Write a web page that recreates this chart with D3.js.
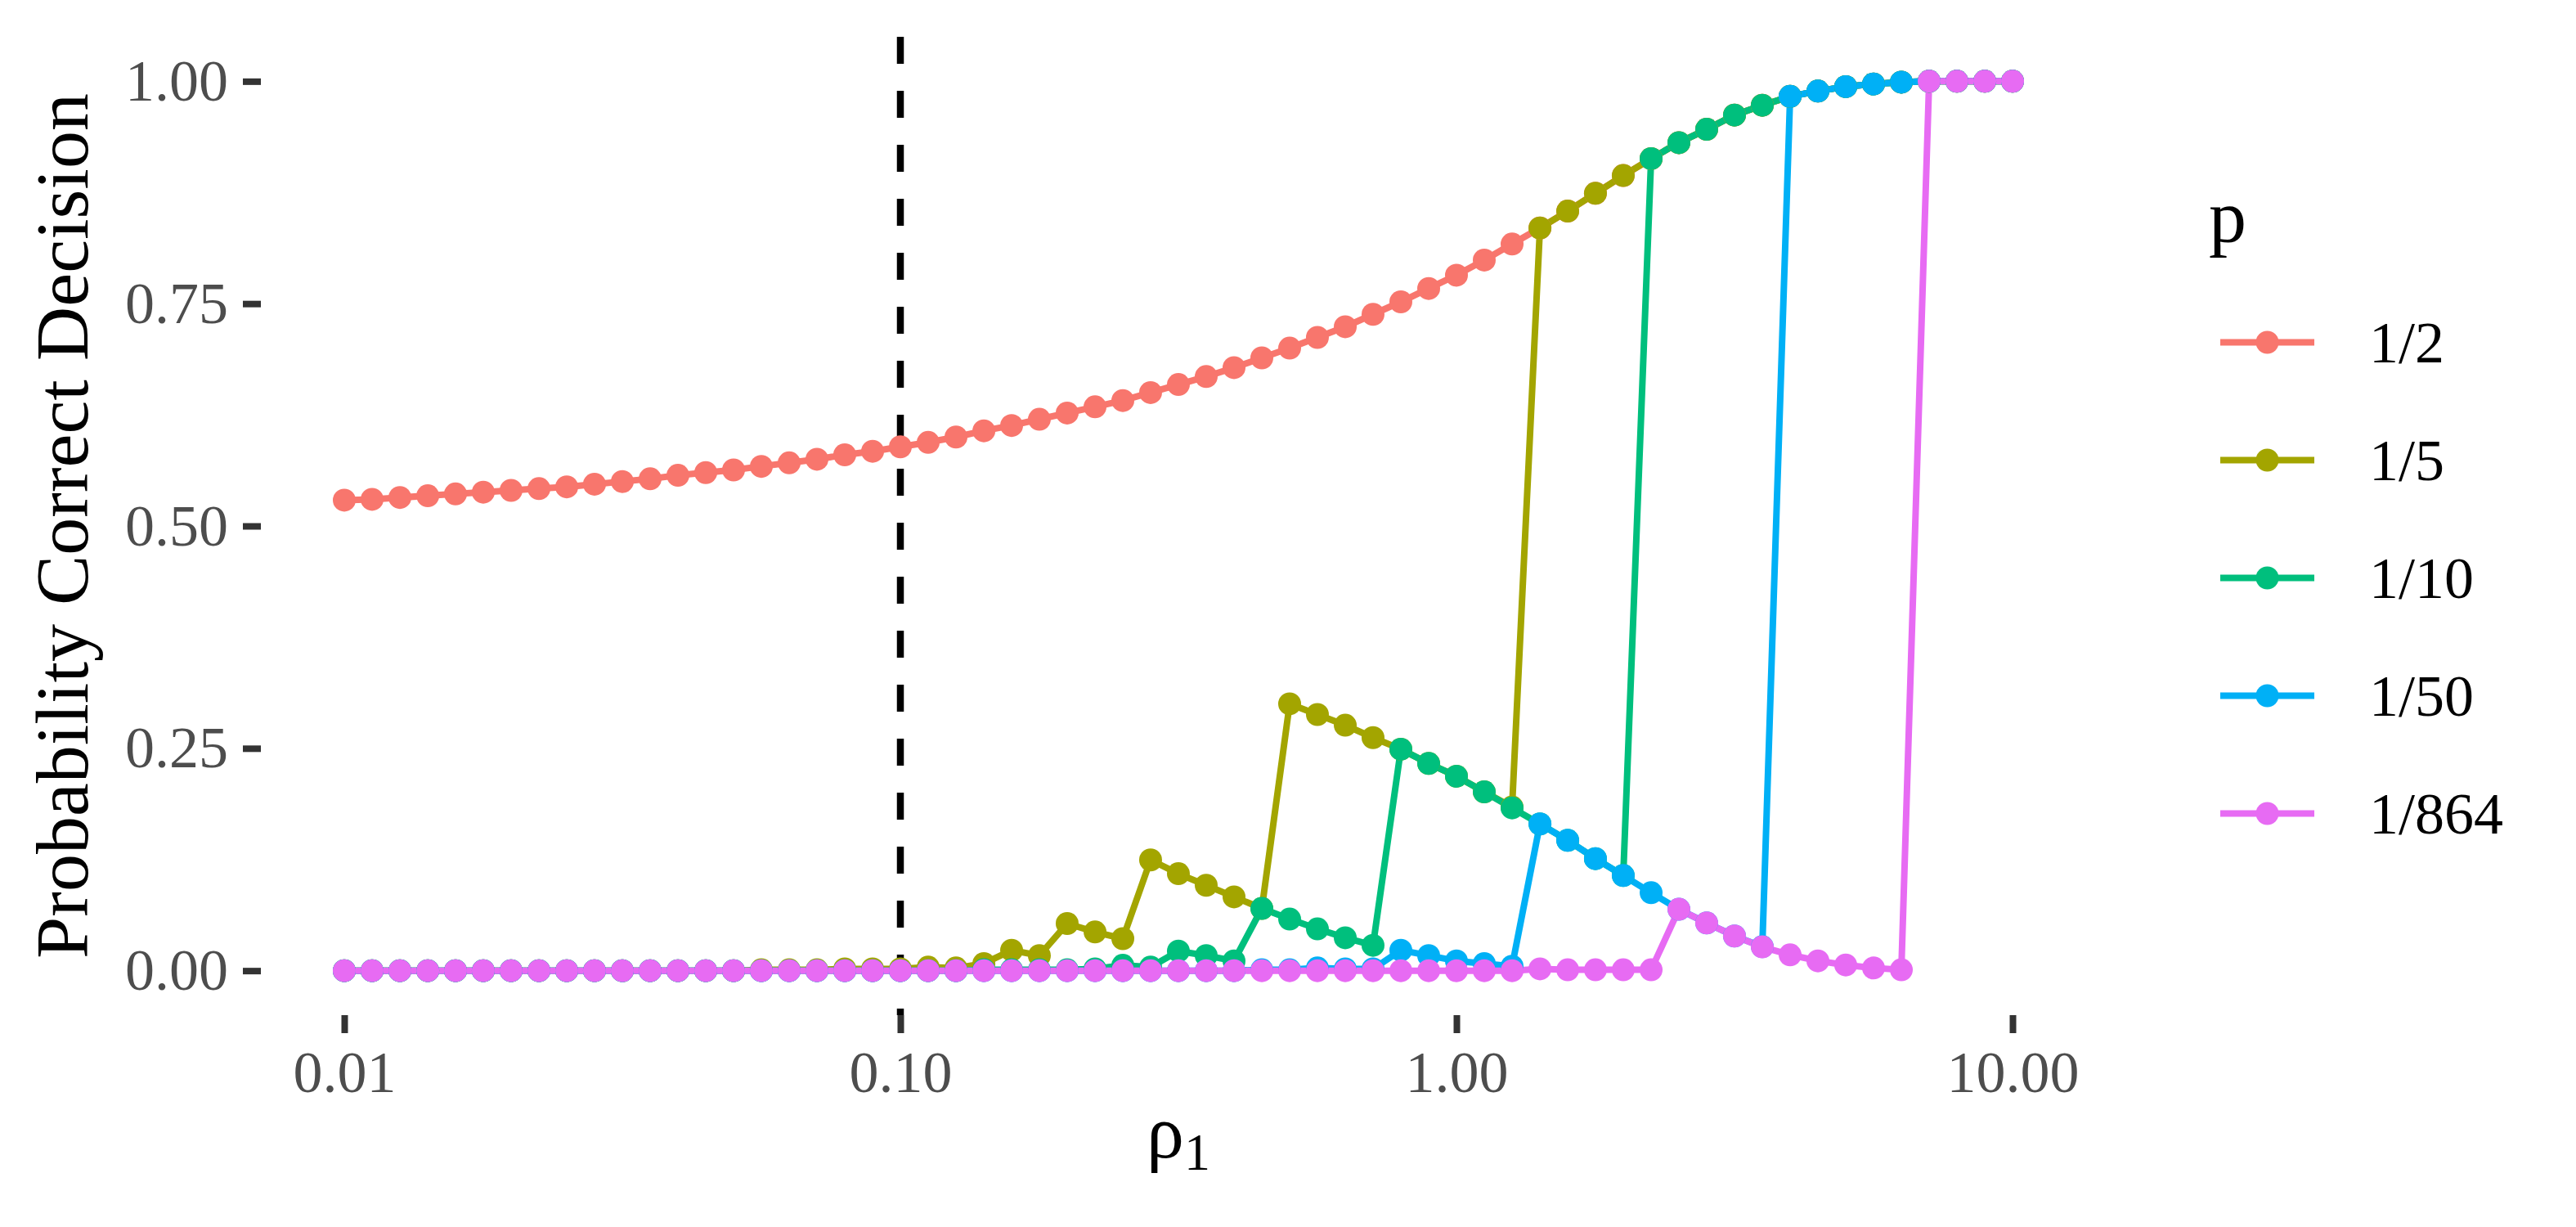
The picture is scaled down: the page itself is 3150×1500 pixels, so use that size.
<!DOCTYPE html>
<html>
<head>
<meta charset="utf-8">
<script src="https://cdn.jsdelivr.net/npm/d3@7"></script>
<style>
  html, body { margin: 0; padding: 0; background: #ffffff; }
  svg { display: block; }
</style>
</head>
<body>
<svg id="chart" width="3150" height="1500"></svg>
<script>
// ---- data ----
const rho = [0.01, 0.01122, 0.01259, 0.01413, 0.01585, 0.01778, 0.01995, 0.02239, 0.02512, 0.02818,
  0.03162, 0.03548, 0.03981, 0.04467, 0.05012, 0.05623, 0.0631, 0.07079, 0.07943, 0.08913,
  0.1, 0.1122, 0.1259, 0.1413, 0.1585, 0.1778, 0.1995, 0.2239, 0.2512, 0.2818,
  0.3162, 0.3548, 0.3981, 0.4467, 0.5012, 0.5623, 0.631, 0.7079, 0.7943, 0.8913,
  1.0, 1.122, 1.259, 1.413, 1.585, 1.778, 1.995, 2.239, 2.512, 2.818,
  3.162, 3.548, 3.981, 4.467, 5.012, 5.623, 6.31, 7.079, 7.943, 8.913, 10.0];

const p_1_2 = [0.529, 0.530, 0.532, 0.534, 0.536, 0.538, 0.540, 0.542, 0.544, 0.547,
  0.550, 0.553, 0.557, 0.560, 0.563, 0.567, 0.571, 0.575, 0.580, 0.584,
  0.589, 0.594, 0.600, 0.607, 0.613, 0.620, 0.627, 0.634, 0.641, 0.650,
  0.659, 0.668, 0.678, 0.689, 0.700, 0.712, 0.724, 0.738, 0.752, 0.767,
  0.782, 0.799, 0.817, 0.835, 0.854, 0.874, 0.894, 0.913, 0.931, 0.946,
  0.962, 0.973, 0.983, 0.989, 0.994, 0.997, 0.999, 1.000, 1.000, 1.000, 1.000];

const p_1_5 = [0, 0, 0, 0, 0, 0, 0, 0, 0, 0,
  0, 0, 0, 0, 0, 0.001, 0.001, 0.001, 0.002, 0.002,
  0.002, 0.004, 0.003, 0.008, 0.023, 0.017, 0.053, 0.0435, 0.036, 0.1245,
  0.109, 0.096, 0.083, 0.070, 0.300, 0.288, 0.276, 0.262, 0.249, 0.233,
  0.2186, 0.201, 0.184, 0.835, 0.854, 0.874, 0.894, 0.913, 0.931, 0.946,
  0.962, 0.973, 0.983, 0.989, 0.994, 0.997, 0.999, 1.000, 1.000, 1.000, 1.000];

const p_1_10 = [0, 0, 0, 0, 0, 0, 0, 0, 0, 0,
  0, 0, 0, 0, 0, 0, 0, 0, 0, 0,
  0, 0, 0, 0.001, 0.001, 0.001, 0.001, 0.002, 0.006, 0.004,
  0.022, 0.017, 0.011, 0.070, 0.058, 0.047, 0.037, 0.0285, 0.249, 0.233,
  0.2186, 0.201, 0.183, 0.165, 0.1465, 0.126, 0.107, 0.913, 0.931, 0.946,
  0.962, 0.973, 0.983, 0.989, 0.994, 0.997, 0.999, 1.000, 1.000, 1.000, 1.000];

const p_1_50 = [0, 0, 0, 0, 0, 0, 0, 0, 0, 0,
  0, 0, 0, 0, 0, 0, 0, 0, 0, 0,
  0, 0, 0, 0, 0, 0, 0, 0, 0, 0,
  0, 0, 0, 0.001, 0.001, 0.003, 0.002, 0.002, 0.023, 0.017,
  0.011, 0.008, 0.005, 0.165, 0.1465, 0.126, 0.107, 0.0877, 0.069, 0.0536,
  0.039, 0.027, 0.983, 0.989, 0.994, 0.997, 0.999, 1.000, 1.000, 1.000, 1.000];

const p_1_864 = [0, 0, 0, 0, 0, 0, 0, 0, 0, 0,
  0, 0, 0, 0, 0, 0, 0, 0, 0, 0,
  0, 0, 0, 0, 0, 0, 0, 0, 0, 0,
  0, 0, 0, 0, 0, 0, 0, 0, 0, 0,
  0, 0, 0, 0.002, 0.001, 0.001, 0.001, 0.001, 0.069, 0.0536,
  0.039, 0.0267, 0.0178, 0.011, 0.0064, 0.003, 0.001, 1.000, 1.000, 1.000, 1.000];

const seriesNames = ["1/2", "1/5", "1/10", "1/50", "1/864"];
const seriesValues = [p_1_2, p_1_5, p_1_10, p_1_50, p_1_864];
const seriesColors = ["#F8766D", "#A3A500", "#00BF7D", "#00B0F6", "#E76BF3"];

const xTicks = [0.01, 0.1, 1, 10];
const yTicks = [0, 0.25, 0.5, 0.75, 1];
const vlineAt = 0.1;

// ---- layout ----
const panel = { left: 319, right: 2563, top: 45, bottom: 1241 };
const FONT = "'Liberation Serif', 'Times New Roman', serif";
const LINE_W = 8;
const PT_R = 14;

const svg = d3.select("#chart");

const x = d3.scaleLog()
  .domain([Math.pow(10, -2.15), Math.pow(10, 1.15)])
  .range([panel.left, panel.right]);
const y = d3.scaleLinear()
  .domain([-0.05, 1.05])
  .range([panel.bottom, panel.top]);

// ---- axes ----
const yAxis = d3.axisLeft(y)
  .tickValues(yTicks)
  .tickFormat(d3.format(".2f"))
  .tickSize(22)
  .tickPadding(18);
const gy = svg.append("g")
  .attr("transform", `translate(${panel.left},0)`)
  .call(yAxis);

const xAxis = d3.axisBottom(x)
  .tickValues(xTicks)
  .tickFormat(d3.format(".2f"))
  .tickSize(22)
  .tickPadding(21);
const gx = svg.append("g")
  .attr("transform", `translate(0,${panel.bottom})`)
  .call(xAxis);

[gx, gy].forEach(g => {
  g.select(".domain").remove();
  g.selectAll(".tick line").attr("stroke", "#333333").attr("stroke-width", 8);
  g.selectAll(".tick text")
    .attr("fill", "#4D4D4D")
    .style("font-family", FONT)
    .style("font-size", "72px");
});

// ---- vertical dashed reference line ----
svg.append("line")
  .attr("x1", x(vlineAt)).attr("x2", x(vlineAt))
  .attr("y1", panel.top).attr("y2", panel.bottom)
  .attr("stroke", "#000000")
  .attr("stroke-width", 8.5)
  .attr("stroke-dasharray", "33,33");

// ---- series ----
const seriesData = seriesNames.map((name, k) => ({
  name,
  color: seriesColors[k],
  points: rho.map((r, i) => ({ r, v: seriesValues[k][i] }))
}));

const line = d3.line().x(d => x(d.r)).y(d => y(d.v));

const gLines = svg.append("g");
seriesData.forEach(s => {
  gLines.append("path")
    .datum(s.points)
    .attr("d", line)
    .attr("fill", "none")
    .attr("stroke", s.color)
    .attr("stroke-width", LINE_W);
});

const gPts = svg.append("g");
seriesData.forEach(s => {
  gPts.append("g")
    .selectAll("circle")
    .data(s.points)
    .join("circle")
    .attr("cx", d => x(d.r))
    .attr("cy", d => y(d.v))
    .attr("r", PT_R)
    .attr("fill", s.color);
});

// ---- axis titles ----
svg.append("text")
  .attr("transform", `translate(107,${(panel.top + panel.bottom) / 2}) rotate(-90)`)
  .attr("text-anchor", "middle")
  .attr("fill", "#000000")
  .style("font-family", FONT)
  .style("font-size", "92px")
  .text("Probability Correct Decision");

const xt = svg.append("text")
  .attr("x", (panel.left + panel.right) / 2)
  .attr("y", 1415)
  .attr("text-anchor", "middle")
  .attr("fill", "#000000")
  .style("font-family", FONT)
  .style("font-size", "92px");
xt.append("tspan").text("ρ");
xt.append("tspan").attr("dy", 15).style("font-size", "64px").text("1");

// ---- legend ----
const legend = svg.append("g");
legend.append("text")
  .attr("x", 2701)
  .attr("y", 296)
  .attr("fill", "#000000")
  .style("font-family", FONT)
  .style("font-size", "92px")
  .text("p");

seriesData.forEach((s, k) => {
  const cy = 418.5 + k * 144;
  legend.append("line")
    .attr("x1", 2715).attr("x2", 2830)
    .attr("y1", cy).attr("y2", cy)
    .attr("stroke", s.color)
    .attr("stroke-width", LINE_W);
  legend.append("circle")
    .attr("cx", 2772.5).attr("cy", cy).attr("r", PT_R)
    .attr("fill", s.color);
  legend.append("text")
    .attr("x", 2897)
    .attr("y", cy + 24)
    .attr("fill", "#000000")
    .style("font-family", FONT)
    .style("font-size", "72px")
    .text(s.name);
});
</script>
</body>
</html>
